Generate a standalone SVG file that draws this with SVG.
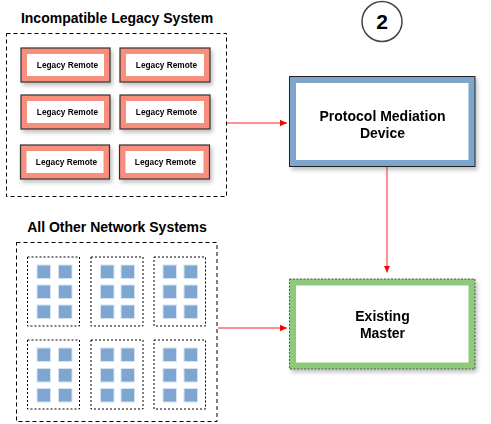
<svg xmlns="http://www.w3.org/2000/svg" width="491" height="424" viewBox="0 0 491 424">
<defs>
<filter id="sh" x="-20%" y="-20%" width="140%" height="140%">
<feGaussianBlur in="SourceAlpha" stdDeviation="2"/>
<feOffset dx="2" dy="3" result="b"/>
<feComponentTransfer><feFuncA type="linear" slope="0.25"/></feComponentTransfer>
<feMerge><feMergeNode/><feMergeNode in="SourceGraphic"/></feMerge>
</filter>
<marker id="arr" markerWidth="8" markerHeight="8" refX="7" refY="4" orient="auto" markerUnits="userSpaceOnUse">
<path d="M0,0.8 L7,4 L0,7.2 Z" fill="#FF0000"/>
</marker>
</defs>
<style>
text{font-family:"Liberation Sans",Arial,sans-serif;font-weight:bold;fill:#000;text-anchor:middle}
.title{font-size:14px}
.lr{font-size:8.3px}
.big{font-size:14px}
.grp{fill:#fff;stroke:#000;stroke-width:1;stroke-dasharray:4 3}
.sub{fill:#fff;stroke:#000;stroke-width:1;stroke-dasharray:2 2}
.lro{fill:#FA8E7C;stroke:#333;stroke-width:1.2}
.in{fill:#fff}
.sq{fill:#7EA6D0;stroke:#D4E3F3;stroke-width:1}
.con{stroke:#FF2020;stroke-width:1;fill:none}
</style>

<g id="legacy-system">
<text class="title" x="117" y="23">Incompatible Legacy System</text>
<rect class="grp" x="6.5" y="33.5" width="220" height="163"/>
</g>

<g id="legacy-remote-1" filter="url(#sh)"><rect class="lro" x="21" y="48" width="89" height="34"/><rect class="in" x="27" y="54" width="77" height="22"/><text class="lr" x="67.5" y="68">Legacy Remote</text></g>
<g id="legacy-remote-2" filter="url(#sh)"><rect class="lro" x="120" y="48" width="90" height="34"/><rect class="in" x="126" y="54" width="78" height="22"/><text class="lr" x="166.5" y="68">Legacy Remote</text></g>
<g id="legacy-remote-3" filter="url(#sh)"><rect class="lro" x="21" y="95" width="89" height="34"/><rect class="in" x="27" y="101" width="77" height="22"/><text class="lr" x="67.5" y="115">Legacy Remote</text></g>
<g id="legacy-remote-4" filter="url(#sh)"><rect class="lro" x="120" y="95" width="90" height="34"/><rect class="in" x="126" y="101" width="78" height="22"/><text class="lr" x="166.5" y="115">Legacy Remote</text></g>
<g id="legacy-remote-5" filter="url(#sh)"><rect class="lro" x="20.5" y="145" width="89" height="34"/><rect class="in" x="26.5" y="151" width="77" height="22"/><text class="lr" x="66.5" y="165">Legacy Remote</text></g>
<g id="legacy-remote-6" filter="url(#sh)"><rect class="lro" x="119.5" y="145" width="90" height="34"/><rect class="in" x="125.5" y="151" width="78" height="22"/><text class="lr" x="165.5" y="165">Legacy Remote</text></g>

<g id="step-2">
<circle cx="382" cy="21.5" r="20" fill="#fff" stroke="#444" stroke-width="1.5"/>
<text x="382" y="29" style="font-size:21px">2</text>
</g>

<g id="protocol-mediation-device" filter="url(#sh)">
<rect x="289.5" y="76.5" width="185.5" height="90" fill="#7EA6CC" stroke="#222" stroke-width="1"/>
<rect x="296" y="83" width="172.5" height="77" fill="#fff"/>
<text class="big" x="382.5" y="121">Protocol Mediation</text>
<text class="big" x="382.5" y="138">Device</text>
</g>

<g id="existing-master" filter="url(#sh)">
<rect x="289.5" y="279" width="185.5" height="90" fill="#8DCA7A" stroke="#555" stroke-width="1" stroke-dasharray="2 1.5"/>
<rect x="296" y="285.5" width="172.5" height="77" fill="#fff"/>
<text class="big" x="382.5" y="321">Existing</text>
<text class="big" x="382.5" y="338">Master</text>
</g>

<g id="network-systems">
<text class="title" x="117" y="232">All Other Network Systems</text>
<rect class="grp" x="16.5" y="242.5" width="200.5" height="179"/>
<g id="subnet-1"><rect class="sub" x="27.5" y="257" width="52" height="69"/>
<rect class="sq" x="37" y="265" width="13.5" height="13.5"/><rect class="sq" x="58.5" y="265" width="13.5" height="13.5"/>
<rect class="sq" x="37" y="285" width="13.5" height="13.5"/><rect class="sq" x="58.5" y="285" width="13.5" height="13.5"/>
<rect class="sq" x="37" y="305" width="13.5" height="13.5"/><rect class="sq" x="58.5" y="305" width="13.5" height="13.5"/></g>
<g id="subnet-2"><rect class="sub" x="91" y="257" width="52" height="69"/>
<rect class="sq" x="100.5" y="265" width="13.5" height="13.5"/><rect class="sq" x="121" y="265" width="13.5" height="13.5"/>
<rect class="sq" x="100.5" y="285" width="13.5" height="13.5"/><rect class="sq" x="121" y="285" width="13.5" height="13.5"/>
<rect class="sq" x="100.5" y="305" width="13.5" height="13.5"/><rect class="sq" x="121" y="305" width="13.5" height="13.5"/></g>
<g id="subnet-3"><rect class="sub" x="154" y="257" width="51.5" height="69"/>
<rect class="sq" x="163" y="265" width="13.5" height="13.5"/><rect class="sq" x="184" y="265" width="13.5" height="13.5"/>
<rect class="sq" x="163" y="285" width="13.5" height="13.5"/><rect class="sq" x="184" y="285" width="13.5" height="13.5"/>
<rect class="sq" x="163" y="305" width="13.5" height="13.5"/><rect class="sq" x="184" y="305" width="13.5" height="13.5"/></g>
<g id="subnet-4"><rect class="sub" x="27.5" y="340" width="52" height="69"/>
<rect class="sq" x="37" y="348" width="13.5" height="13.5"/><rect class="sq" x="58.5" y="348" width="13.5" height="13.5"/>
<rect class="sq" x="37" y="368.5" width="13.5" height="13.5"/><rect class="sq" x="58.5" y="368.5" width="13.5" height="13.5"/>
<rect class="sq" x="37" y="388.5" width="13.5" height="13.5"/><rect class="sq" x="58.5" y="388.5" width="13.5" height="13.5"/></g>
<g id="subnet-5"><rect class="sub" x="91" y="340" width="52" height="69"/>
<rect class="sq" x="100.5" y="348" width="13.5" height="13.5"/><rect class="sq" x="121" y="348" width="13.5" height="13.5"/>
<rect class="sq" x="100.5" y="368.5" width="13.5" height="13.5"/><rect class="sq" x="121" y="368.5" width="13.5" height="13.5"/>
<rect class="sq" x="100.5" y="388.5" width="13.5" height="13.5"/><rect class="sq" x="121" y="388.5" width="13.5" height="13.5"/></g>
<g id="subnet-6"><rect class="sub" x="154" y="340" width="51.5" height="69"/>
<rect class="sq" x="163" y="348" width="13.5" height="13.5"/><rect class="sq" x="184" y="348" width="13.5" height="13.5"/>
<rect class="sq" x="163" y="368.5" width="13.5" height="13.5"/><rect class="sq" x="184" y="368.5" width="13.5" height="13.5"/>
<rect class="sq" x="163" y="388.5" width="13.5" height="13.5"/><rect class="sq" x="184" y="388.5" width="13.5" height="13.5"/></g>
</g>

<g id="connectors">
<line class="con" x1="227" y1="123" x2="287" y2="123" marker-end="url(#arr)"/>
<line class="con" x1="387" y1="167" x2="387" y2="272.5" marker-end="url(#arr)"/>
<line class="con" x1="218" y1="328" x2="287" y2="328" marker-end="url(#arr)"/>
</g>
</svg>
